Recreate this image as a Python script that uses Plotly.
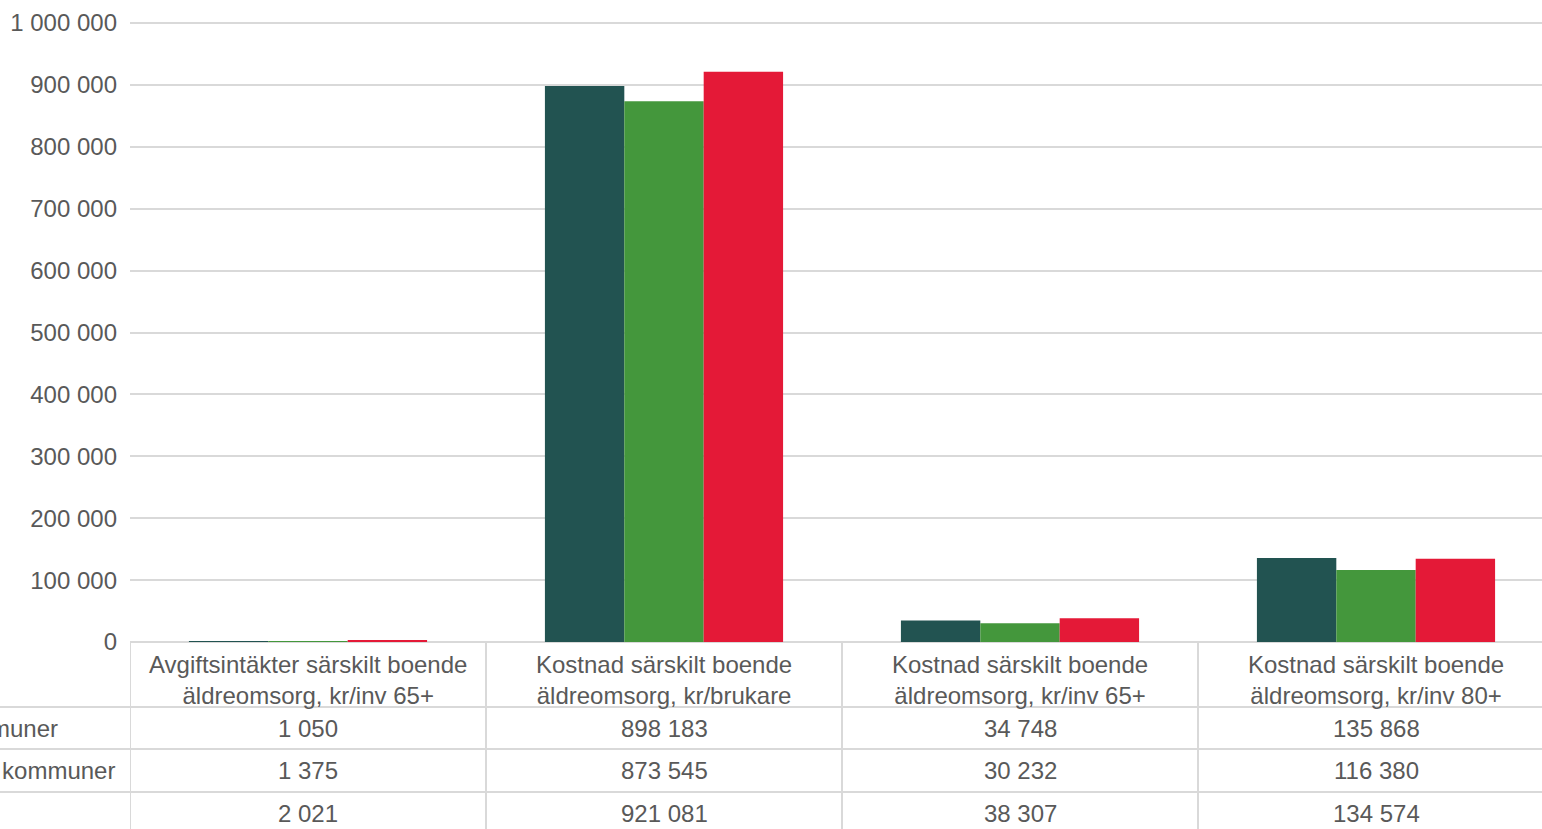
import plotly.graph_objects as go

categories = [
    "Avgiftsintäkter särskilt boende<br>äldreomsorg, kr/inv 65+",
    "Kostnad särskilt boende<br>äldreomsorg, kr/brukare",
    "Kostnad särskilt boende<br>äldreomsorg, kr/inv 65+",
    "Kostnad särskilt boende<br>äldreomsorg, kr/inv 80+",
]
series_names = ["Alla kommuner", "Liknande kommuner", "Kommun"]
alla = [1050, 898183, 34748, 135868]
liknande = [1375, 873545, 30232, 116380]
kommun = [2021, 921081, 38307, 134574]
series_values = [alla, liknande, kommun]
colors = ["#225351", "#44973C", "#E41937"]
y_ticks = [0, 100000, 200000, 300000, 400000, 500000, 600000, 700000, 800000, 900000, 1000000]

W, H = 1542, 829
ML, MT, MB = 130, 20, 187
PLOT_W = W - ML
PLOT_H = H - MT - MB
CAT_W = 356
FONT = "Liberation Sans, Arial, sans-serif"
TXT = "#595959"
GRID = "#D9D9D9"
FS = 24
Y_TOP = 1000000 * PLOT_H / (PLOT_H - 3)

def fmt(v):
    return f"{v:,}".replace(",", " ")

def py(p):  # pixel y -> paper
    return (H - MB - p) / PLOT_H

def px(p):  # pixel x -> paper
    return (p - ML) / PLOT_W

x_idx = list(range(len(categories)))

fig = go.Figure()
for name, vals, c in zip(series_names, series_values, colors):
    fig.add_trace(go.Bar(x=x_idx, y=vals, name=name, marker_color=c,
                         marker_line_width=0))

shapes = []
annotations = []
# vertical table lines
for i in range(len(categories)):
    shapes.append(dict(type="line", xref="x", yref="paper", x0=i - 0.5, x1=i - 0.5,
                       y0=0, y1=py(H + 5), line=dict(color=GRID, width=2)))
# horizontal row lines
for ry in [707, 749, 792]:
    shapes.append(dict(type="line", xref="paper", yref="paper", x0=px(-5), x1=1.01,
                       y0=py(ry), y1=py(ry), line=dict(color=GRID, width=2)))
# header labels
for i, cat in enumerate(categories):
    annotations.append(dict(x=i, y=py(680), xref="x", yref="paper", text=cat,
                            showarrow=False, xanchor="center", yanchor="middle",
                            font=dict(family=FONT, size=FS, color=TXT)))
row_centers = [728, 770.5, 813]
for r, (name, vals) in enumerate(zip(series_names, series_values)):
    annotations.append(dict(x=px(-104), y=py(row_centers[r]), xref="paper", yref="paper",
                            text=name, showarrow=False, xanchor="left", yanchor="middle",
                            font=dict(family=FONT, size=FS, color=TXT)))
    for i, v in enumerate(vals):
        annotations.append(dict(x=i, y=py(row_centers[r]), xref="x", yref="paper",
                                text=fmt(v), showarrow=False, xanchor="center",
                                yanchor="middle",
                                font=dict(family=FONT, size=FS, color=TXT)))

fig.update_layout(
    width=W, height=H,
    margin=dict(l=ML, r=0, t=MT, b=MB, pad=0),
    paper_bgcolor="white", plot_bgcolor="white",
    barmode="group", bargap=0.331, bargroupgap=0,
    showlegend=False,
    separators=", ",
    shapes=shapes, annotations=annotations,
    font=dict(family=FONT, size=FS, color=TXT),
)
fig.update_xaxes(range=[-0.5, -0.5 + PLOT_W / CAT_W], showticklabels=False,
                 showgrid=False, zeroline=False, showline=False, fixedrange=True)
fig.update_yaxes(range=[0, Y_TOP], tickvals=y_ticks,
                 ticktext=[fmt(v) for v in y_ticks],
                 showgrid=True, gridcolor=GRID, gridwidth=1.5,
                 zeroline=True, zerolinecolor=GRID, zerolinewidth=2,
                 ticks="", ticklabelstandoff=12,
                 tickfont=dict(family=FONT, size=FS, color=TXT))

fig.write_html("out.html", config={"displayModeBar": False},
               post_script="document.body.style.margin='0';document.body.style.overflow='hidden';")
